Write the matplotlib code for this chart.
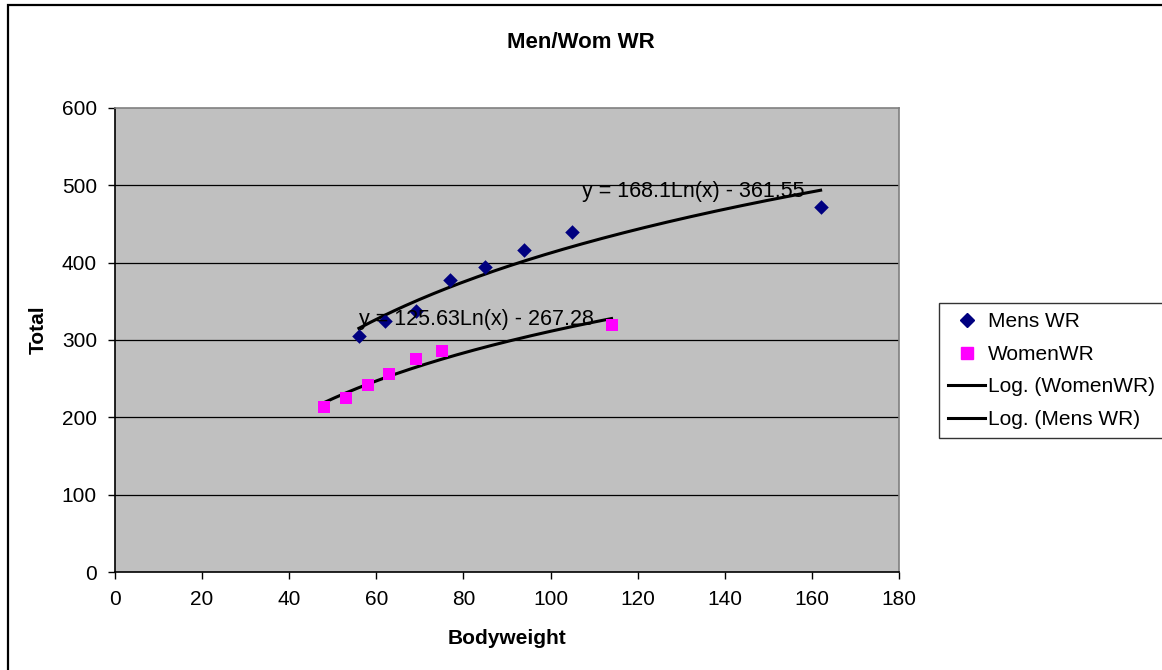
import numpy as np
import matplotlib
matplotlib.use("Agg")
import matplotlib.pyplot as plt
from matplotlib.lines import Line2D
from matplotlib.patches import Rectangle

plt.rcParams['font.family'] = ['Liberation Sans', 'DejaVu Sans']

# Data
men_bw = [56, 62, 69, 77, 85, 94, 105, 162]
men_total = [305, 325, 338, 377, 395, 417, 440, 472]
women_bw = [48, 53, 58, 63, 69, 75, 114]
women_total = [214, 225, 242, 256, 276, 286, 320]

# Logarithmic trendline coefficients (from chart labels)
men_a, men_b = 168.1, -361.55
women_a, women_b = 125.63, -267.28
men_label = "y = 168.1Ln(x) - 361.55"
women_label = "y = 125.63Ln(x) - 267.28"

title = "Men/Wom WR"
xlabel = "Bodyweight"
ylabel = "Total"
xticks = [0, 20, 40, 60, 80, 100, 120, 140, 160, 180]
yticks = [0, 100, 200, 300, 400, 500, 600]

W, H = 1162, 670
fig = plt.figure(figsize=(W / 100, H / 100), dpi=100)
fig.patch.set_facecolor('white')
fig.patches.append(Rectangle((8 / W, -0.01), (1175 - 8) / W, 1.01 - 4.5 / H,
                             transform=fig.transFigure, fill=False,
                             edgecolor='black', linewidth=1.6))

ax = fig.add_axes([115 / W, (H - 572) / H, (899 - 115) / W, (572 - 108) / H])
ax.set_facecolor('#C0C0C0')
ax.set_xlim(0, 180)
ax.set_ylim(0, 600)
ax.set_xticks(xticks)
ax.set_yticks(yticks)
ax.tick_params(axis='both', labelsize=15, direction='out', length=5, width=1,
               color='black', pad=8)
for y in yticks[1:-1]:
    ax.axhline(y, color='black', linewidth=0.9, zorder=1)
for s in ['top', 'right']:
    ax.spines[s].set_color('#808080')
    ax.spines[s].set_linewidth(1.2)
for s in ['left', 'bottom']:
    ax.spines[s].set_color('black')
    ax.spines[s].set_linewidth(1.2)

# Trendlines
mx = np.linspace(min(men_bw), max(men_bw), 200)
wx = np.linspace(min(women_bw), max(women_bw), 200)
ax.plot(wx, women_a * np.log(wx) + women_b, color='black', linewidth=2.2, zorder=3)
ax.plot(mx, men_a * np.log(mx) + men_b, color='black', linewidth=2.2, zorder=3)

# Points
ax.scatter(men_bw, men_total, marker='D', s=55, color='#000080', zorder=4, linewidths=0)
ax.scatter(women_bw, women_total, marker='s', s=70, color='#FF00FF', zorder=4, linewidths=0)

# Equation labels
ax.text(107.2, 492, men_label, fontsize=15.5, ha='left', va='center', zorder=5)
ax.text(56.0, 327, women_label, fontsize=15.5, ha='left', va='center', zorder=5)

fig.text(581 / W, 1 - 43 / H, title, fontsize=16, fontweight='bold', ha='center', va='center')
fig.text(507 / W, 1 - 638 / H, xlabel, fontsize=15, fontweight='bold', ha='center', va='center')
fig.text(38 / W, 1 - 330 / H, ylabel, fontsize=15, fontweight='bold', ha='center', va='center',
         rotation=90)

handles = [
    Line2D([], [], linestyle='none', marker='D', markersize=7, color='#000080'),
    Line2D([], [], linestyle='none', marker='s', markersize=8, color='#FF00FF'),
    Line2D([], [], color='black', linewidth=2.2),
    Line2D([], [], color='black', linewidth=2.2),
]
labels = ["Mens WR", "WomenWR", "Log. (WomenWR)", "Log. (Mens WR)"]
leg = fig.legend(handles, labels, loc='upper left',
                 bbox_to_anchor=(939 / W, 1 - 303 / H), bbox_transform=fig.transFigure,
                 fontsize=15, frameon=True, fancybox=False, shadow=False,
                 handlelength=1.75, handletextpad=0.15, borderpad=0.45,
                 labelspacing=0.65, borderaxespad=0)
leg.get_frame().set_edgecolor('black')
leg.get_frame().set_linewidth(1.0)

fig.savefig('out.png', dpi=100)
